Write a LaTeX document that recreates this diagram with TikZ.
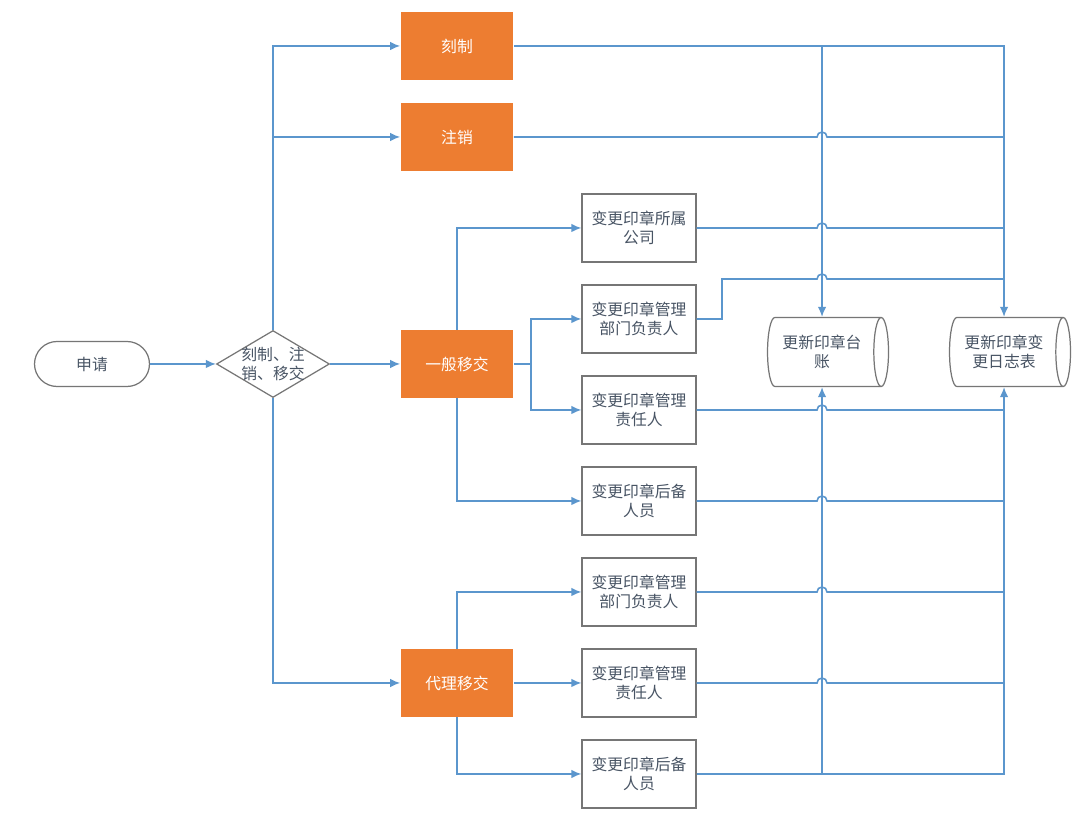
\documentclass[tikz,border=0pt]{standalone}
\usepackage{fontspec}
\usepackage{tikz}
\usetikzlibrary{arrows.meta,shapes.geometric,calc}
\newfontfamily\cjk{Noto Sans CJK SC}
\definecolor{sealblue}{RGB}{91,150,205}
\definecolor{sealorange}{RGB}{237,125,49}
\definecolor{sealgray}{RGB}{118,118,118}
\definecolor{sealtext}{RGB}{72,84,100}

\begin{document}
\begin{tikzpicture}[x=0.02cm, y=-0.02cm, >={Latex[length=2mm,width=1.7mm]},
  every node/.style={font=\cjk\fontsize{9}{11}\selectfont, text=sealtext, align=center},
  line/.style={draw=sealblue, line width=0.9pt},
  flow/.style={line, ->},
  action/.style={fill=sealorange, text=white, minimum width=2.26cm, minimum height=1.36cm},
  change/.style={draw=sealgray, line width=0.7pt, fill=white, minimum width=2.28cm, minimum height=1.36cm, inner sep=1pt},
  store/.style={cylinder, draw=sealgray, line width=0.7pt, aspect=0.32, minimum width=1.38cm, minimum height=2.42cm}]
\fill[white] (0,0) rectangle (1080,813);
\useasboundingbox (0,0) rectangle (1080,813);

% start and decision
\node[draw=sealgray, line width=0.7pt, rounded corners=0.45cm, minimum width=2.3cm, minimum height=0.9cm] (apply) at (92,364) {申请};
\node[diamond, draw=sealgray, line width=0.7pt, minimum width=2.26cm, minimum height=1.34cm, inner sep=0pt] (pick) at (273,364) {};
\node (picklab) at (pick) {刻制、注\\销、移交};

% actions
\node[action] (keke) at (457,46) {刻制};
\node[action] (zx) at (457,137) {注销};
\node[action] (yb) at (457,364) {一般移交};
\node[action] (dl) at (457,683) {代理移交};

% changes
\node[change] (gs) at (639,228) {变更印章所属\\公司};
\node[change] (gfz) at (639,319) {变更印章管理\\部门负责人};
\node[change] (gzr) at (639,410) {变更印章管理\\责任人};
\node[change] (ghb) at (639,501) {变更印章后备\\人员};
\node[change] (dfz) at (639,592) {变更印章管理\\部门负责人};
\node[change] (dzr) at (639,683) {变更印章管理\\责任人};
\node[change] (dhb) at (639,774) {变更印章后备\\人员};

% records
\node[store] (ledger) at (822,352) {更新印章台\\账};
\node[store] (log) at (1004,352) {更新印章变\\更日志表};

\coordinate (ybsplit) at (531,364);
\coordinate (gfzup) at (722,279);

\draw[flow] (apply) -- (pick);
\draw[flow] (pick.north) |- (keke);
\draw[flow] (pick.north) |- (zx);
\draw[flow] (pick) -- (yb);
\draw[flow] (pick.south) |- (dl);

\draw[flow] (yb.north) |- (gs);
\draw[line] (yb) -- (ybsplit);
\draw[flow] (ybsplit) |- (gfz);
\draw[flow] (ybsplit) |- (gzr);
\draw[flow] (yb.south) |- (ghb);
\draw[flow] (dl.north) |- (dfz);
\draw[flow] (dl) -- (dzr);
\draw[flow] (dl.south) |- (dhb);

% collecting lines, hop over the ledger bus
\draw[flow] (keke.east) -| (log.north);
\draw[flow] (keke.east -| ledger.north) -- (ledger.north);
\draw[flow] (dhb.east) -| (log.south);
\draw[flow] (dhb.east -| ledger.south) -- (ledger.south);
\foreach \n in {zx,gs,gzr,ghb,dfz,dzr}
  \draw[line] (\n.east) -- ($(\n.east -| ledger.north)+(-5,0)$) arc[start angle=180, end angle=0, radius=1mm] -- (\n.east -| log.north);
\draw[line] (gfz.east) -| (gfzup) -- ($(gfzup -| ledger.north)+(-5,0)$) arc[start angle=180, end angle=0, radius=1mm] -- (gfzup -| log.north);
\end{tikzpicture}
\end{document}
